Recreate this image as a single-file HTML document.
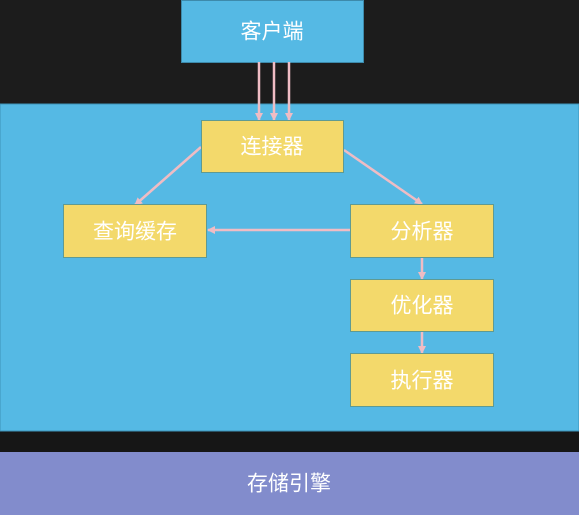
<!DOCTYPE html>
<html><head><meta charset="utf-8"><style>
html,body{margin:0;padding:0;width:579px;height:515px;overflow:hidden;background:#1a1a1a}
svg{display:block}
text{font-family:"Liberation Sans","Noto Sans CJK SC",sans-serif;fill:#fff;font-size:21px;text-anchor:middle;dominant-baseline:central}
</style></head><body>
<svg width="579" height="515" viewBox="0 0 579 515">
<defs>
<marker id="a" markerWidth="8" markerHeight="8" refX="7" refY="4" orient="auto" markerUnits="userSpaceOnUse"><path d="M0,0L8,4L0,8z" fill="#efbcc4"/></marker>
</defs>
<rect x="0" y="0" width="579" height="515" fill="#1c1c1c"/>
<rect x="0" y="431" width="579" height="21" fill="#161616"/>
<rect x="0" y="104" width="579" height="327" fill="#55b9e4" stroke="#3d93b8" stroke-width="1"/>
<rect x="0" y="452" width="579" height="63" fill="#828ccc"/>
<text x="289" y="484">存储引擎</text>
<rect x="181.5" y="0.5" width="182" height="62" fill="#55b9e4" stroke="#3d8aab"/>
<text x="272" y="32">客户端</text>
<g stroke="#efbcc4" stroke-width="2.5" fill="none" marker-end="url(#a)">
<line x1="259" y1="62" x2="259" y2="120"/>
<line x1="274" y1="62" x2="274" y2="120"/>
<line x1="289" y1="62" x2="289" y2="120"/>
<line x1="201" y1="147" x2="135" y2="205"/>
<line x1="344" y1="150" x2="422" y2="204"/>
<line x1="350" y1="230" x2="208" y2="230"/>
<line x1="422" y1="258" x2="422" y2="279"/>
<line x1="422" y1="332" x2="422" y2="353"/>
</g>
<g fill="#f3d96b" stroke="#5f9a92" stroke-width="1">
<rect x="201.5" y="120.5" width="142" height="52"/>
<rect x="63.5" y="204.5" width="143" height="53"/>
<rect x="350.5" y="204.5" width="143" height="53"/>
<rect x="350.5" y="279.5" width="143" height="52"/>
<rect x="350.5" y="353.5" width="143" height="53"/>
</g>
<text x="272" y="147">连接器</text>
<text x="135" y="232">查询缓存</text>
<text x="422" y="232">分析器</text>
<text x="422" y="306">优化器</text>
<text x="422" y="381">执行器</text>
</svg>
</body></html>
